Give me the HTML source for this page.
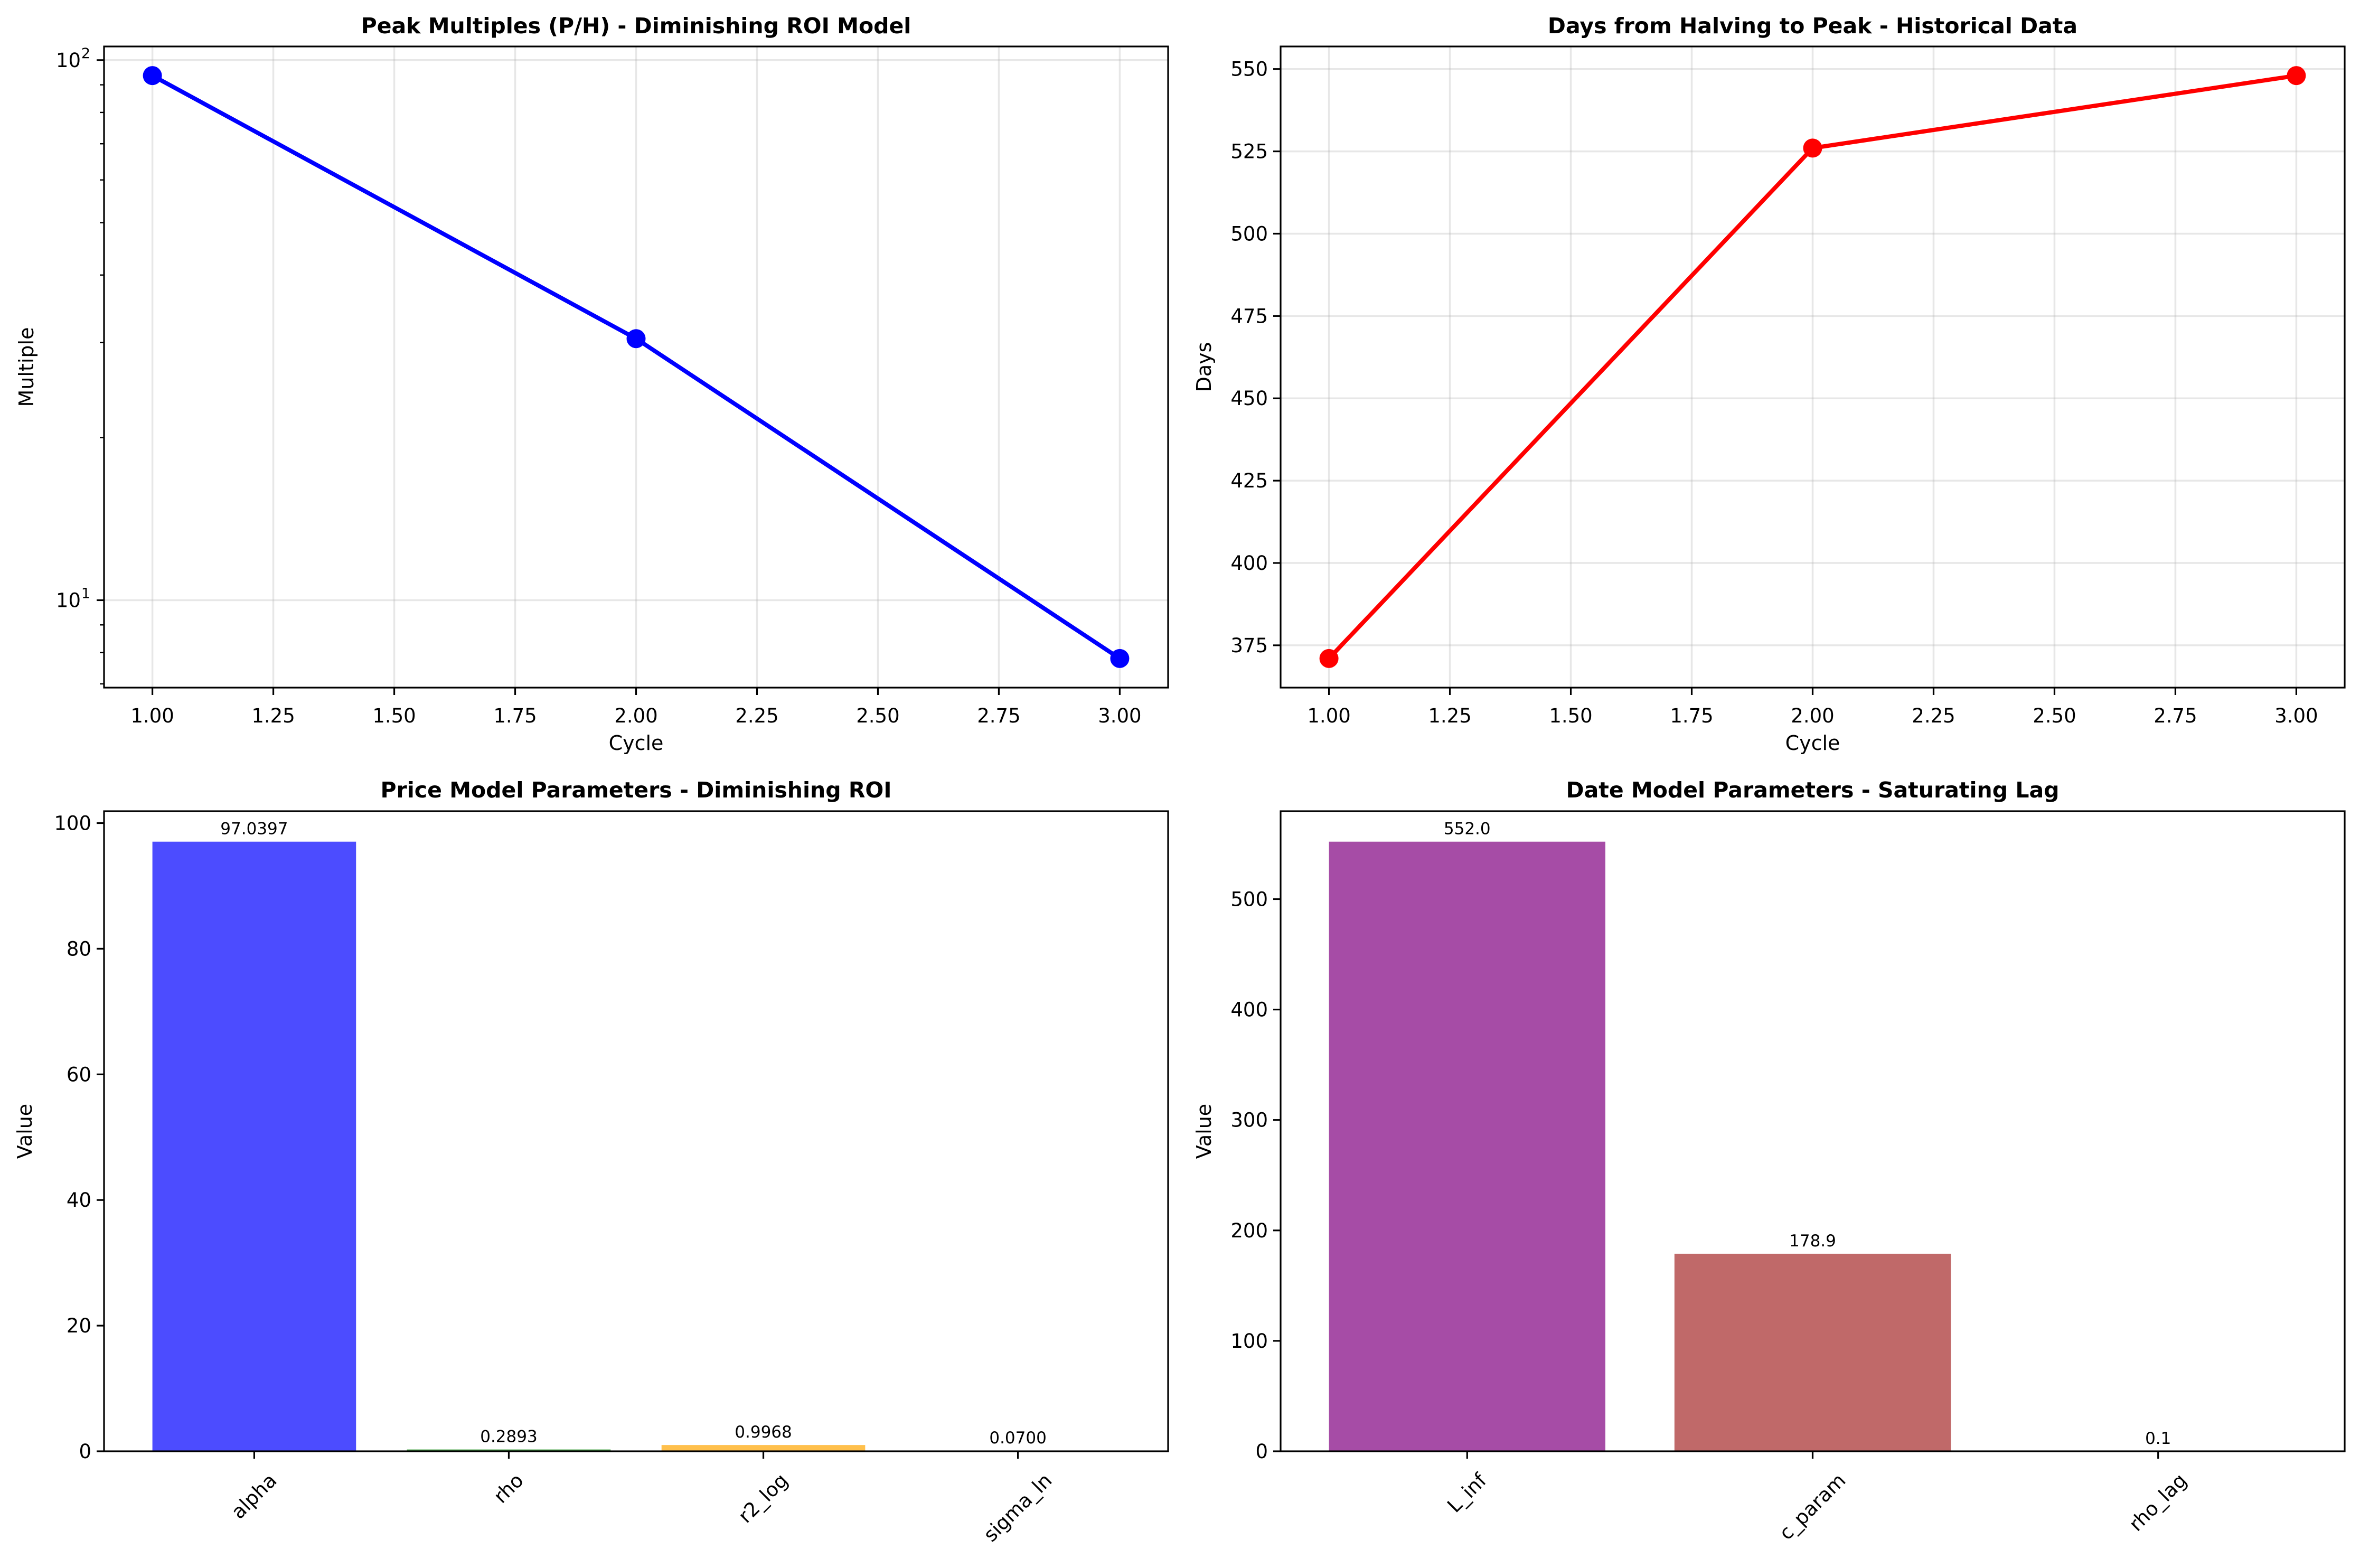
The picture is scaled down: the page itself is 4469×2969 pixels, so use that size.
<!DOCTYPE html>
<html><head><meta charset="utf-8"><style>
html,body{margin:0;padding:0;background:#fff}
svg{display:block}
text{font-family:"DejaVu Sans","Liberation Sans",sans-serif;fill:#000}
</style></head><body>
<svg id="fig" width="4469" height="2969" viewBox="0 0 4469 2969" xmlns="http://www.w3.org/2000/svg"></svg>
<script>
// ---- data ----
const cycles = [1, 2, 3];
const peakMultiples = [93.6, 30.5, 7.8];
const daysToPeak = [371, 526, 548];
const priceParams = ["alpha", "rho", "r2_log", "sigma_ln"];
const priceValues = [97.0397, 0.2893, 0.9968, 0.0700];
const priceLabels = ["97.0397", "0.2893", "0.9968", "0.0700"];
const dateParams = ["L_inf", "c_param", "rho_lag"];
const dateValues = [552.0, 178.9, 0.1];
const dateLabels = ["552.0", "178.9", "0.1"];
const cycleTicks = [1.0, 1.25, 1.5, 1.75, 2.0, 2.25, 2.5, 2.75, 3.0];
const cycleTickLabels = ["1.00","1.25","1.50","1.75","2.00","2.25","2.50","2.75","3.00"];
const dayTicks = [375, 400, 425, 450, 475, 500, 525, 550];
const priceTicks = [0, 20, 40, 60, 80, 100];
const dateTicks = [0, 100, 200, 300, 400, 500];

const NS = "http://www.w3.org/2000/svg";
const svg = document.getElementById("fig");
function el(tag, attrs, parent) {
  const e = document.createElementNS(NS, tag);
  for (const k in attrs) e.setAttribute(k, attrs[k]);
  (parent || svg).appendChild(e);
  return e;
}
function txt(s, attrs, parent) { const t = el("text", attrs, parent); t.textContent = s; return t; }

const L1 = 197, R1 = 2212, L2 = 2425, R2 = 4440;
const T1 = 88, B1 = 1302, T2 = 1536, B2 = 2748;
const TICK = 37, LAB = 38;

function frame(g, l, t, r, b) {
  const f = el("rect", {x:l, y:t, width:r-l, height:b-t, fill:"none", stroke:"#000", "stroke-width":3.2}, g);
  
  
}
function title(g, s, l, r, y) {
  const t = txt(s, {x:(l+r)/2, y:y, "text-anchor":"middle", "font-size":41, "font-weight":"bold"}, g);
  
  
}
function ylabel(g, s, x, cy) {
  const t = txt(s, {x:x, y:cy, "text-anchor":"middle", "font-size":LAB, transform:`rotate(-90 ${x} ${cy})`}, g);
  
  
}
function xlabel(g, s, cx, y) {
  const t = txt(s, {x:cx, y:y, "text-anchor":"middle", "font-size":LAB}, g);
  
  
}
function yTick(g, y, l, label, major, grid, r) {
  if (grid) el("line", {x1:l, x2:r, y1:y, y2:y, stroke:"#b0b0b0", "stroke-opacity":0.3, "stroke-width":3.5}, g);
  el("line", {x1:l-(major?14:8), x2:l, y1:y, y2:y, stroke:"#000", "stroke-width":major?3.2:2.4}, g);
  if (label !== null) {
    const t = txt(label, {x:l-24, y:y+13, "text-anchor":"end", "font-size":TICK}, g);
    
    
    return t;
  }
}
function xTick(g, x, b, label, grid, t0) {
  if (grid) el("line", {x1:x, x2:x, y1:t0, y2:b, stroke:"#b0b0b0", "stroke-opacity":0.3, "stroke-width":3.5}, g);
  el("line", {x1:x, x2:x, y1:b, y2:b+14, stroke:"#000", "stroke-width":3.2}, g);
  const t = txt(label, {x:x, y:b+66, "text-anchor":"middle", "font-size":TICK}, g);
  
  
}

// ---- Chart 1: log line ----
(function(){
  const g = el("g", {});
  
  
  const lmin = Math.log10(Math.min(...peakMultiples)), lmax = Math.log10(Math.max(...peakMultiples));
  const pad = (lmax-lmin)*0.05, y0 = lmin-pad, y1 = lmax+pad;
  const X = v => L1 + (v-0.9)/2.2*(R1-L1);
  const Y = v => B1 - (Math.log10(v)-y0)/(y1-y0)*(B1-T1);
  cycleTicks.forEach((c,i)=>xTick(g, X(c), B1, cycleTickLabels[i], true, T1));
  [7,8,9,20,30,40,50,60,70,80,90].forEach(v=>{ const y=Y(v); if(y>T1&&y<B1) yTick(g,y,L1,null,false,false,R1); });
  [10,100].forEach((v,i)=>{
    const y = Y(v);
    yTick(g, y, L1, null, true, true, R1);
    const t = txt("10", {x:L1-44, y:y+13, "text-anchor":"end", "font-size":TICK}, g);
    
    
    const s = txt(i===0?"1":"2", {x:L1-26, y:y-4, "text-anchor":"end", "font-size":27}, g);
    
    
  });
  const pts = cycles.map((c,i)=>X(c)+","+Y(peakMultiples[i])).join(" ");
  const pl = el("polyline", {points:pts, fill:"none", stroke:"#0000ff", "stroke-width":8, "stroke-linejoin":"round"}, g);
  
  
  cycles.forEach((c,i)=>{
    const m = el("circle", {cx:X(c), cy:Y(peakMultiples[i]), r:18, fill:"#0000ff"}, g);
    
    
  });
  frame(g, L1, T1, R1, B1);
  title(g, "Peak Multiples (P/H) - Diminishing ROI Model", L1, R1, 63);
  ylabel(g, "Multiple", 63, (T1+B1)/2);
  xlabel(g, "Cycle", (L1+R1)/2, 1420);
})();

// ---- Chart 2: days line ----
(function(){
  const g = el("g", {});
  
  
  const mn = Math.min(...daysToPeak), mx = Math.max(...daysToPeak), pad=(mx-mn)*0.05;
  const y0 = mn-pad, y1 = mx+pad;
  const X = v => L2 + (v-0.9)/2.2*(R2-L2);
  const Y = v => B1 - (v-y0)/(y1-y0)*(B1-T1);
  cycleTicks.forEach((c,i)=>xTick(g, X(c), B1, cycleTickLabels[i], true, T1));
  dayTicks.forEach(v=>{ const y=Y(v); if(y>=T1-1&&y<=B1+1) yTick(g, y, L2, String(v), true, true, R2); });
  const pts = cycles.map((c,i)=>X(c)+","+Y(daysToPeak[i])).join(" ");
  const pl = el("polyline", {points:pts, fill:"none", stroke:"#ff0000", "stroke-width":8, "stroke-linejoin":"round"}, g);
  
  
  cycles.forEach((c,i)=>{
    const m = el("circle", {cx:X(c), cy:Y(daysToPeak[i]), r:18, fill:"#ff0000"}, g);
    
    
  });
  frame(g, L2, T1, R2, B1);
  title(g, "Days from Halving to Peak - Historical Data", L2, R2, 63);
  ylabel(g, "Days", 2293, (T1+B1)/2);
  xlabel(g, "Cycle", (L2+R2)/2, 1420);
})();

// ---- bar charts ----
function barChart(name, cats, vals, labels, colors, ticks, l, r, ttl, ylx) {
  const g = el("g", {});
  
  
  const ymax = Math.max(...vals)*1.05;
  const n = cats.length, x0 = -0.4-(n-0.2)*0.05, x1 = n-1+0.4+(n-0.2)*0.05;
  const X = v => l + (v-x0)/(x1-x0)*(r-l);
  const Y = v => B2 - v/ymax*(B2-T2);
  ticks.forEach(v=>yTick(g, Y(v), l, String(v), true, false, r));
  cats.forEach((c,i)=>{
    const bx = X(i-0.4), bw = X(i+0.4)-bx, by = Y(vals[i]);
    const b = el("rect", {x:bx, y:by, width:bw, height:Math.max(B2-by,0), fill:colors[i], "fill-opacity":0.7}, g);
    
    
    const vl = txt(labels[i], {x:X(i), y:by-14, "text-anchor":"middle", "font-size":31}, g);
    
    
    el("line", {x1:X(i), x2:X(i), y1:B2, y2:B2+14, stroke:"#000", "stroke-width":3.2}, g);
    const t = txt(c, {x:0, y:0, "text-anchor":"middle", "font-size":TICK}, g);
    
    
    const w = t.getComputedTextLength ? t.getComputedTextLength() : c.length*22;
    const h = (w + TICK) * 0.7071;
    const cy = B2 + 36 + h/2;
    t.setAttribute("x", X(i)); t.setAttribute("y", cy + 12);
    t.setAttribute("transform", `rotate(-45 ${X(i)} ${cy})`);
  });
  frame(g, l, T2, r, B2);
  title(g, ttl, l, r, 1510);
  ylabel(g, "Value", ylx, (T2+B2)/2);
}
barChart("price-params-chart", priceParams, priceValues, priceLabels,
  ["#0000ff","#008000","#ffa500","#ff0000"], priceTicks, L1, R1,
  "Price Model Parameters - Diminishing ROI", 60);
barChart("date-params-chart", dateParams, dateValues, dateLabels,
  ["#800080","#a52a2a","#ffc0cb"], dateTicks, L2, R2,
  "Date Model Parameters - Saturating Lag", 2293);
</script>
</body></html>
